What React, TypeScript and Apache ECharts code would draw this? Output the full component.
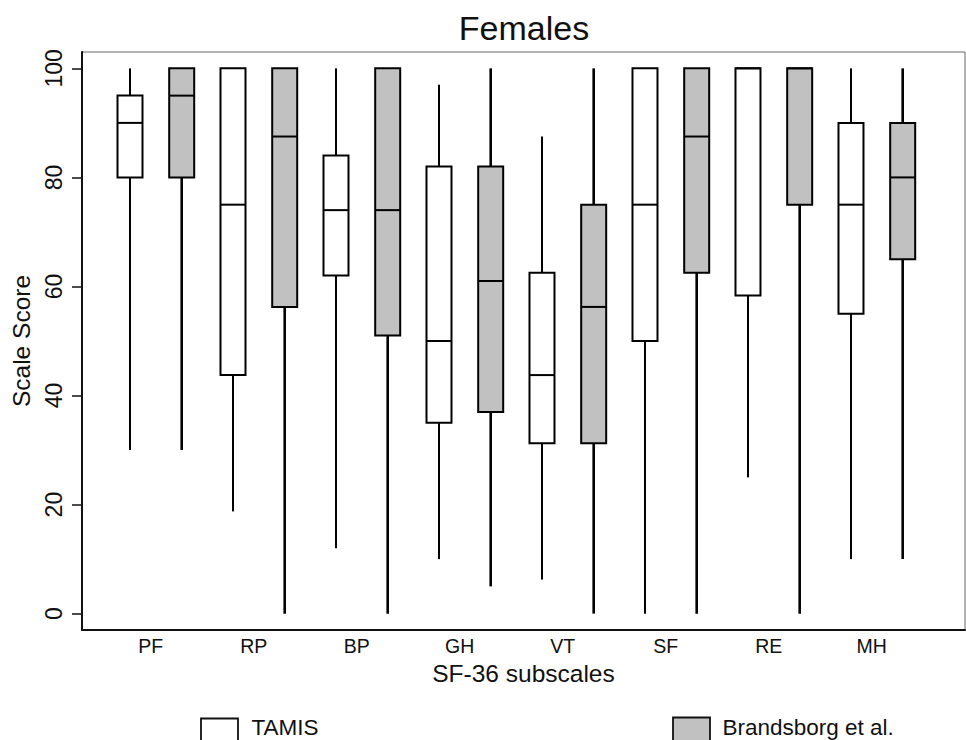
import React, { useEffect, useRef } from "react";
import * as echarts from "echarts";

// ---- data ----
const categories = ["PF", "RP", "BP", "GH", "VT", "SF", "RE", "MH"];
const yTicks = [0, 20, 40, 60, 80, 100];

const tamisMin = [30, 18.75, 12, 10, 6.25, 0, 25, 10];
const tamisQ1 = [80, 43.75, 62, 35, 31.25, 50, 58.33, 55];
const tamisMedian = [90, 75, 74, 50, 43.75, 75, 100, 75];
const tamisQ3 = [95, 100, 84, 82, 62.5, 100, 100, 90];
const tamisMax = [100, 100, 100, 97, 87.5, 100, 100, 100];

const brandMin = [30, 0, 0, 5, 0, 0, 0, 10];
const brandQ1 = [80, 56.25, 51, 37, 31.25, 62.5, 75, 65];
const brandMedian = [95, 87.5, 74, 61, 56.25, 87.5, 100, 80];
const brandQ3 = [100, 100, 100, 82, 75, 100, 100, 90];
const brandMax = [100, 100, 100, 100, 100, 100, 100, 100];

const FONT = "'Liberation Sans', Arial, Helvetica, sans-serif";

function buildRows(mn: number[], q1: number[], md: number[], q3: number[], mx: number[]) {
  return categories.map((_, i) => [i, mn[i], q1[i], md[i], q3[i], mx[i]]);
}

function makeRenderer(offset: number, fill: string, whiskerWidth: number) {
  return (params: any, api: any) => {
    const ci = api.value(0);
    const x = api.coord([ci, 0])[0] + offset;
    const yMin = api.coord([ci, api.value(1)])[1];
    const yQ1 = api.coord([ci, api.value(2)])[1];
    const yMed = api.coord([ci, api.value(3)])[1];
    const yQ3 = api.coord([ci, api.value(4)])[1];
    const yMax = api.coord([ci, api.value(5)])[1];
    const half = 12.5;
    const children: any[] = [];
    if (yMax < yQ3 - 0.5) {
      children.push({
        type: "line",
        shape: { x1: x, y1: yMax, x2: x, y2: yQ3 },
        style: { stroke: "#000", lineWidth: whiskerWidth },
      });
    }
    if (yMin > yQ1 + 0.5) {
      children.push({
        type: "line",
        shape: { x1: x, y1: yQ1, x2: x, y2: yMin },
        style: { stroke: "#000", lineWidth: whiskerWidth },
      });
    }
    children.push({
      type: "rect",
      shape: { x: x - half, y: yQ3, width: half * 2, height: yQ1 - yQ3 },
      style: { fill, stroke: "#000", lineWidth: 2 },
    });
    children.push({
      type: "line",
      shape: { x1: x - half, y1: yMed, x2: x + half, y2: yMed },
      style: { stroke: "#000", lineWidth: 2 },
    });
    return { type: "group", children };
  };
}

export default function App() {
  const ref = useRef<HTMLDivElement>(null);

  useEffect(() => {
    if (!ref.current) return;
    const chart = echarts.init(ref.current, undefined, { renderer: "svg" });
    const option: any = {
      animation: false,
      backgroundColor: "#fff",
      grid: {
        left: 82,
        right: 1,
        top: 52,
        bottom: 110,
        show: true,
        borderColor: "#666",
        borderWidth: 1,
        containLabel: false,
      },
      xAxis: {
        type: "value",
        min: -0.667,
        max: 7.906,
        name: "SF-36 subscales",
        nameLocation: "middle",
        nameGap: 29,
        nameTextStyle: { fontFamily: FONT, fontSize: 24.5, color: "#111" },
        axisLine: { show: true, onZero: false, lineStyle: { color: "#111", width: 2 } },
        axisTick: { show: false },
        splitLine: { show: false },
        axisLabel: {
          customValues: categories.map((_, i) => i),
          formatter: (v: number) => categories[Math.round(v)] ?? "",
          fontFamily: FONT,
          fontSize: 19.5,
          color: "#111",
          margin: 6,
        },
      },
      yAxis: {
        type: "value",
        min: -3,
        max: 103,
        name: "Scale Score",
        nameLocation: "middle",
        nameGap: 45,
        nameTextStyle: { fontFamily: FONT, fontSize: 24.5, color: "#111" },
        axisLine: { show: true, onZero: false, lineStyle: { color: "#111", width: 2 } },
        axisTick: {
          show: true,
          length: 10,
          customValues: yTicks,
          lineStyle: { color: "#111", width: 1.5 },
        },
        splitLine: { show: false },
        axisLabel: {
          customValues: yTicks,
          rotate: 90,
          fontFamily: FONT,
          fontSize: 23,
          color: "#111",
          margin: 17,
        },
      },
      graphic: [
        {
          type: "text",
          x: 524,
          y: 28,
          style: {
            text: "Females",
            fontFamily: FONT,
            fontSize: 34,
            fill: "#111",
            align: "center",
            verticalAlign: "middle",
          },
        },
        {
          type: "rect",
          shape: { x: 201, y: 718.5, width: 37, height: 30 },
          style: { fill: "#fff", stroke: "#111", lineWidth: 1.8 },
        },
        {
          type: "text",
          x: 251.5,
          y: 727.5,
          style: {
            text: "TAMIS",
            fontFamily: FONT,
            fontSize: 22.5,
            lineHeight: 18,
            fill: "#111",
            align: "left",
            verticalAlign: "middle",
          },
        },
        {
          type: "rect",
          shape: { x: 673, y: 717.5, width: 37, height: 30 },
          style: { fill: "#c1c1c1", stroke: "#111", lineWidth: 1.8 },
        },
        {
          type: "text",
          x: 722.5,
          y: 727.5,
          style: {
            text: "Brandsborg et al.",
            fontFamily: FONT,
            fontSize: 22.5,
            lineHeight: 18,
            fill: "#111",
            align: "left",
            verticalAlign: "middle",
          },
        },
      ],
      series: [
        {
          name: "TAMIS",
          type: "custom",
          renderItem: makeRenderer(-20.7, "#ffffff", 2),
          encode: { x: 0, y: [1, 2, 3, 4, 5] },
          data: buildRows(tamisMin, tamisQ1, tamisMedian, tamisQ3, tamisMax),
          z: 3,
        },
        {
          name: "Brandsborg et al.",
          type: "custom",
          renderItem: makeRenderer(31, "#c1c1c1", 2.6),
          encode: { x: 0, y: [1, 2, 3, 4, 5] },
          data: buildRows(brandMin, brandQ1, brandMedian, brandQ3, brandMax),
          z: 3,
        },
      ],
    };
    chart.setOption(option);
    return () => chart.dispose();
  }, []);

  return (
    <div
      ref={ref}
      style={{ position: "fixed", left: 0, top: 0, width: 966, height: 740, background: "#fff" }}
    />
  );
}
